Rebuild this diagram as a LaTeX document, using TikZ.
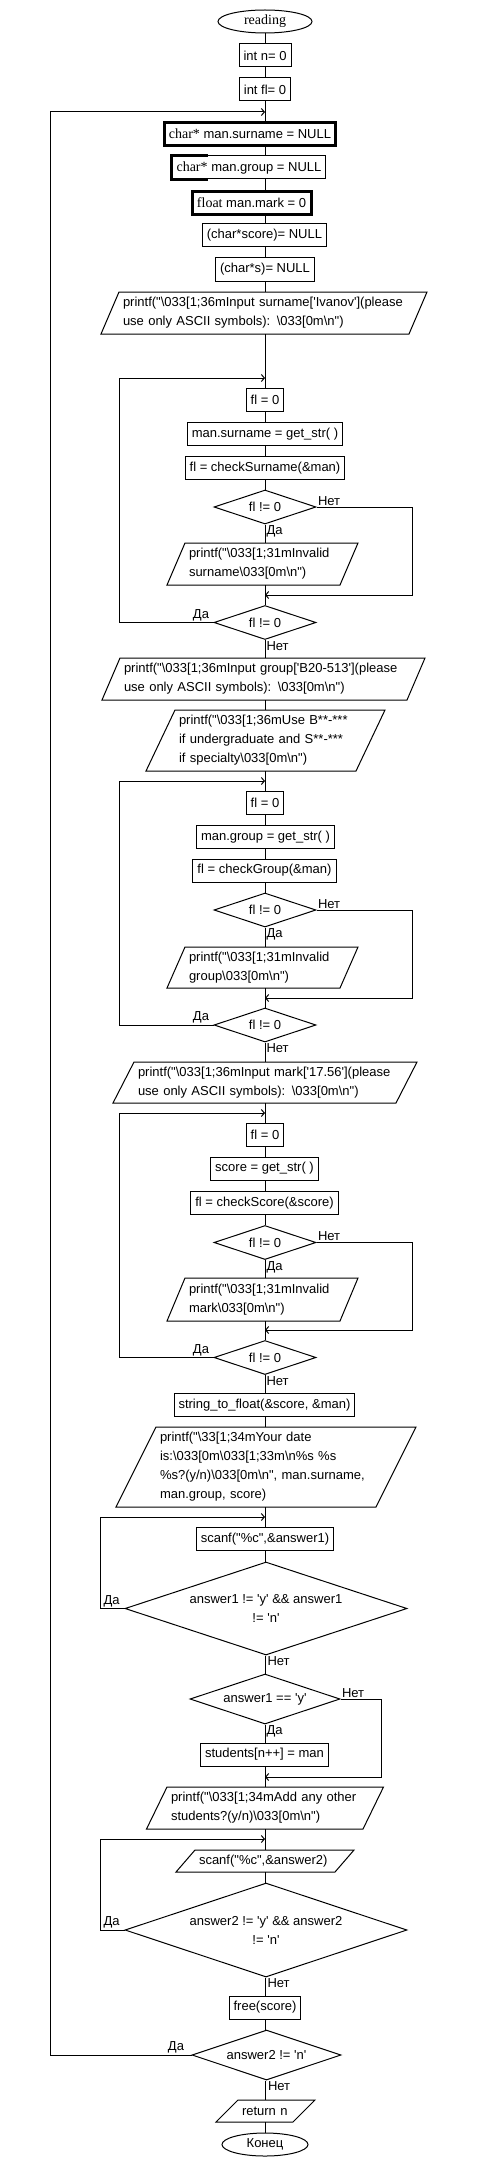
\documentclass[tikz,border=0pt]{standalone}
\usepackage{fontspec}
\newfontfamily\arial{Liberation Sans}[Ligatures=CommonOff]
\newfontfamily\tnr{Liberation Serif}[Ligatures=CommonOff]
\usetikzlibrary{shapes.geometric,arrows.meta}
\newcommand\bsl{\textbackslash}
\newcommand\serifpart[1]{{\tnr\fontsize{14}{19}\selectfont #1}}
% outline of an input/output block round node #1, slant #2
\newcommand\iobox[2]{\draw (#1.north west) -- ([xshift=#2]#1.north east) -- (#1.south east) -- ([xshift=-#2]#1.south west) -- cycle;}

\tikzset{
  proc/.style={rectangle, draw, minimum height=23pt, inner xsep=4.5pt, inner ysep=0pt},
  decl/.style={proc, line width=3pt},
  io/.style={rectangle, align=left, inner xsep=4pt, inner ysep=0pt, outer sep=0pt},
  cond/.style={diamond, draw, aspect=3, inner sep=0pt, align=center},
  term/.style={ellipse, draw, inner sep=0pt, minimum height=23pt},
  lbl/.style={inner sep=1pt},
  merge/.style={-{Straight Barb[length=3pt,width=7pt]}}
}

\begin{document}
\begin{tikzpicture}[x=1pt, y=-1pt, line width=1pt, font=\arial\fontsize{13}{19}\selectfont]
  \useasboundingbox (0,0) rectangle (479,2167);
  % rails of the loops
  \coordinate (spine) at (265,0);
  \coordinate (railO) at (50,0);
  \coordinate (railL) at (119,0);
  \coordinate (railR) at (412,0);
  \coordinate (railA) at (100,0);
  \coordinate (railY) at (381,0);

  % start and declarations
  \node[term, minimum width=94pt] (start) at (265,21.5) {\serifpart{reading}};
  \node[proc] (n) at (265,55.5) {int n= 0};
  \node[proc] (fl) at (265,89.5) {int fl= 0};
  \coordinate (jOuter) at (265,112);
  \node[decl, minimum width=168pt] (surn) at (250,134) {\serifpart{char*} man.surname = NULL};
  \node[proc, minimum width=150pt] (grp) at (249,167.5) {\serifpart{char*} man.group = NULL};
  \draw[line width=3pt] ([xshift=36pt]grp.north west) -| (grp.south west) -- ([xshift=36pt]grp.south west);
  \node[decl, minimum width=119pt] (mark) at (251.5,203) {\serifpart{float} man.mark = 0};
  \node[proc] (score0) at (264.5,235.5) {(char*score)= NULL};
  \node[proc] (s0) at (265,269.5) {(char*s)= NULL};

  % surname
  \node[io, text width=282pt, minimum height=42pt] (prS) at (264,313)
    {printf("\bsl 033[1;36mInput surname['Ivanov'](please\\use only ASCII symbols): \bsl 033[0m\bsl n")};
  \iobox{prS}{18pt}
  \coordinate (jS1) at (265,378);
  \node[proc] (fS) at (265,400) {fl = 0};
  \node[proc] (gS) at (265,434) {man.surname = get\_str( )};
  \node[proc] (cS) at (265,468) {fl = checkSurname(\&man)};
  \node[cond, minimum width=102pt, minimum height=34pt] (dS1) at (265,507) {fl != 0};
  \node[io, text width=147pt, minimum height=42pt] (prIS) at (262.5,564)
    {printf("\bsl 033[1;31mInvalid\\surname\bsl 033[0m\bsl n")};
  \iobox{prIS}{18pt}
  \coordinate (jS2) at (265,595);
  \node[cond, minimum width=102pt, minimum height=34pt] (dS2) at (265,622.5) {fl != 0};

  % group
  \node[io, text width=279pt, minimum height=42pt] (prG) at (263.5,679)
    {printf("\bsl 033[1;36mInput group['B20-513'](please\\use only ASCII symbols): \bsl 033[0m\bsl n")};
  \iobox{prG}{18pt}
  \node[io, text width=173pt, minimum height=61pt] (prU) at (265.5,740.5)
    {printf("\bsl 033[1;36mUse B**-***\\if undergraduate and S**-***\\if specialty\bsl 033[0m\bsl n")};
  \iobox{prU}{29pt}
  \coordinate (jG1) at (265,781);
  \node[proc] (fG) at (265,802.5) {fl = 0};
  \node[proc] (gG) at (265.5,837) {man.group = get\_str( )};
  \node[proc] (cG) at (264.5,870.5) {fl = checkGroup(\&man)};
  \node[cond, minimum width=102pt, minimum height=34pt] (dG1) at (265,910) {fl != 0};
  \node[io, text width=147pt, minimum height=41pt] (prIG) at (262.5,967.5)
    {printf("\bsl 033[1;31mInvalid\\group\bsl 033[0m\bsl n")};
  \iobox{prIG}{18pt}
  \coordinate (jG2) at (265,998);
  \node[cond, minimum width=102pt, minimum height=34pt] (dG2) at (265,1025) {fl != 0};

  % mark
  \node[io, text width=254pt, minimum height=41pt] (prM) at (265,1082.5)
    {printf("\bsl 033[1;36mInput mark['17.56'](please\\use only ASCII symbols): \bsl 033[0m\bsl n")};
  \iobox{prM}{21pt}
  \coordinate (jM1) at (265,1113);
  \node[proc] (fM) at (265,1134.5) {fl = 0};
  \node[proc] (gM) at (264.5,1168.5) {score = get\_str( )};
  \node[proc] (cM) at (264.5,1203) {fl = checkScore(\&score)};
  \node[cond, minimum width=102pt, minimum height=34pt] (dM1) at (265,1242.5) {fl != 0};
  \node[io, text width=147pt, minimum height=43pt] (prIM) at (262.5,1299.5)
    {printf("\bsl 033[1;31mInvalid\\mark\bsl 033[0m\bsl n")};
  \iobox{prIM}{18pt}
  \coordinate (jM2) at (265,1330);
  \node[cond, minimum width=102pt, minimum height=34pt] (dM2) at (265,1357.5) {fl != 0};

  % confirmation
  \node[proc] (stf) at (264.5,1405) {string\_to\_float(\&score, \&man)};
  \node[io, text width=212pt, minimum height=80pt] (prY) at (266,1467)
    {printf("\bsl 33[1;34mYour date\\is:\bsl 033[0m\bsl 033[1;33m\bsl n\%s \%s\\\%s?(y/n)\bsl 033[0m\bsl n", man.surname,\\man.group, score)};
  \iobox{prY}{40pt}
  \coordinate (jA1) at (265,1517);
  \node[proc] (sc1) at (265,1539) {scanf("\%c",\&answer1)};
  \node[cond, minimum width=282pt, minimum height=93pt] (dA1) at (266,1608.5) {answer1 != 'y' \&\& answer1\\!= 'n'};
  \node[cond, minimum width=150pt, minimum height=50pt] (dY) at (265,1699) {answer1 == 'y'};
  \node[proc] (stud) at (264.5,1754.5) {students[n++] = man};
  \coordinate (jY) at (265,1777);
  \node[io, text width=188pt, minimum height=42pt] (prAdd) at (265,1808)
    {printf("\bsl 033[1;34mAdd any other\\students?(y/n)\bsl 033[0m\bsl n")};
  \iobox{prAdd}{20.5pt}
  \coordinate (jB1) at (265,1839);
  \node[io, text width=132pt, minimum height=22pt] (sc2) at (265,1861) {scanf("\%c",\&answer2)};
  \iobox{sc2}{19pt}
  \node[cond, minimum width=282pt, minimum height=94pt] (dB) at (266,1930) {answer2 != 'y' \&\& answer2\\!= 'n'};
  \node[proc] (free) at (265,2007.5) {free(score)};
  \node[cond, minimum width=149pt, minimum height=50pt] (dFin) at (266.5,2055) {answer2 != 'n'};
  \node[io, text width=47pt, minimum height=22pt] (ret) at (265.5,2111) {return n};
  \iobox{ret}{22pt}
  \node[term, minimum width=86pt] (end) at (265,2144.5) {Конец};

  % main flow
  \foreach \a/\b in {start/n, n/fl, fl/surn, surn/grp, grp/mark, mark/score0, score0/s0, s0/prS,
      prS/fS, fS/gS, gS/cS, cS/dS1, dS1/prIS, prIS/dS2, dS2/prG, prG/prU,
      prU/fG, fG/gG, gG/cG, cG/dG1, dG1/prIG, prIG/dG2, dG2/prM,
      prM/fM, fM/gM, gM/cM, cM/dM1, dM1/prIM, prIM/dM2, dM2/stf, stf/prY,
      prY/sc1, sc1/dA1, dA1/dY, dY/stud, stud/prAdd, prAdd/sc2, sc2/dB,
      dB/free, free/dFin, dFin/ret, ret/end}
    \draw (\a.south -| spine) -- (\b.north -| spine);

  % loops and branches
  \draw[merge] (dS2.west) -| (railL |- jS1) -- (jS1);
  \draw[merge] (dS1.east) -| (railR |- jS2) -- (jS2);
  \draw[merge] (dG2.west) -| (railL |- jG1) -- (jG1);
  \draw[merge] (dG1.east) -| (railR |- jG2) -- (jG2);
  \draw[merge] (dM2.west) -| (railL |- jM1) -- (jM1);
  \draw[merge] (dM1.east) -| (railR |- jM2) -- (jM2);
  \draw[merge] (dA1.west) -| (railA |- jA1) -- (jA1);
  \draw[merge] (dY.east) -| (railY |- jY) -- (jY);
  \draw[merge] (dB.west) -| (railA |- jB1) -- (jB1);
  \draw[merge] (dFin.west) -| (railO |- jOuter) -- (jOuter);

  % labels
  \node[lbl, anchor=south west] (lS1n) at (dS1.east) {Нет};
  \node[lbl, anchor=north west] (lS1y) at (dS1.south) {Да};
  \node[lbl, anchor=south east, xshift=-3pt] (lS2y) at (dS2.west) {Да};
  \node[lbl, anchor=north west] (lS2n) at (dS2.south) {Нет};
  \node[lbl, anchor=south west] (lG1n) at (dG1.east) {Нет};
  \node[lbl, anchor=north west] (lG1y) at (dG1.south) {Да};
  \node[lbl, anchor=south east, xshift=-3pt] (lG2y) at (dG2.west) {Да};
  \node[lbl, anchor=north west] (lG2n) at (dG2.south) {Нет};
  \node[lbl, anchor=south west] (lM1n) at (dM1.east) {Нет};
  \node[lbl, anchor=north west] (lM1y) at (dM1.south) {Да};
  \node[lbl, anchor=south east, xshift=-3pt] (lM2y) at (dM2.west) {Да};
  \node[lbl, anchor=north west] (lM2n) at (dM2.south) {Нет};
  \node[lbl, anchor=south west, xshift=2pt] (lA1y) at (dA1.west -| railA) {Да};
  \node[lbl, anchor=north west] (lA1n) at (dA1.south) {Нет};
  \node[lbl, anchor=south west] (lYn) at (dY.east) {Нет};
  \node[lbl, anchor=north west] (lYy) at (dY.south) {Да};
  \node[lbl, anchor=south west, xshift=2pt] (lBy) at (dB.west -| railA) {Да};
  \node[lbl, anchor=north west] (lBn) at (dB.south) {Нет};
  \node[lbl, anchor=south east, xshift=-6pt] (lFy) at (dFin.west) {Да};
  \node[lbl, anchor=north west] (lFn) at (dFin.south) {Нет};
\end{tikzpicture}
\end{document}
